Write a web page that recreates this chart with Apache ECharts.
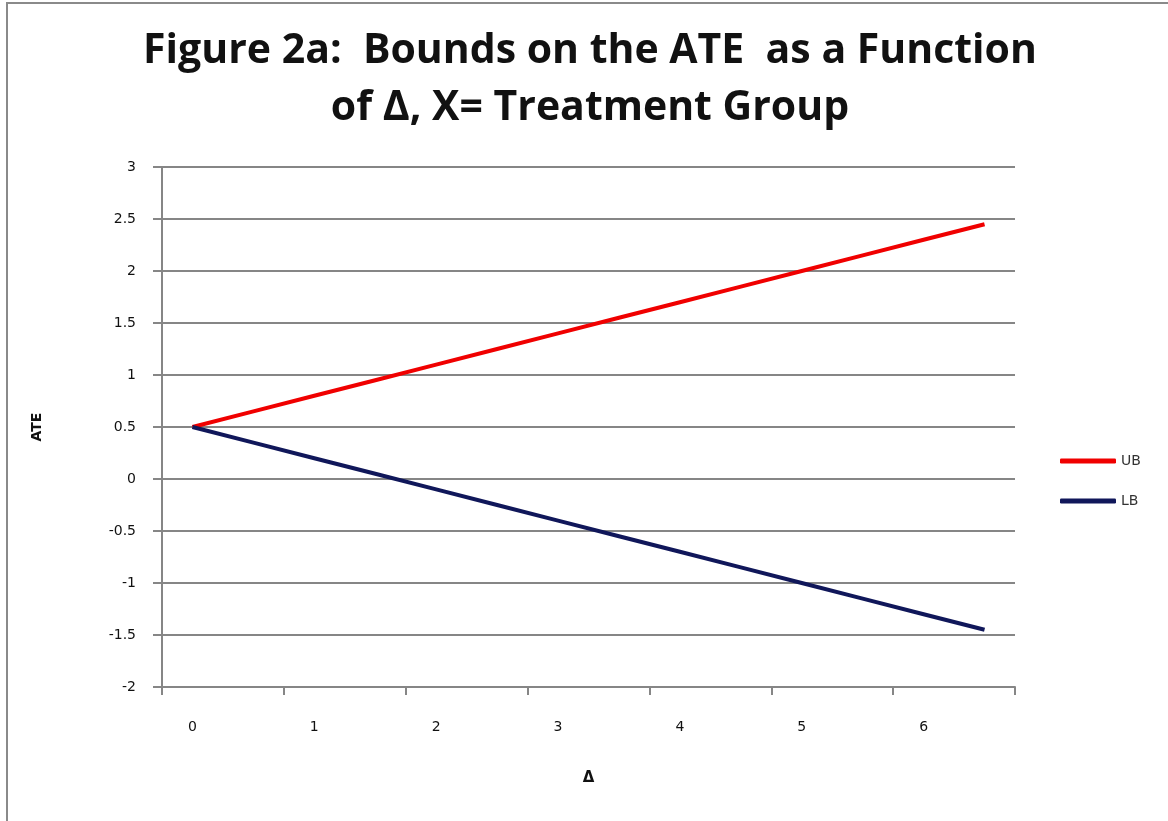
<!DOCTYPE html>
<html>
<head>
<meta charset="utf-8">
<script src="https://cdn.jsdelivr.net/npm/echarts@6/dist/echarts.min.js"></script>
<style>
  html, body { margin: 0; padding: 0; background: #fff; }
  #chart { width: 1168px; height: 821px; }
</style>
</head>
<body>
<div id="chart"></div>
<script>
// delta values (category axis, every other one labelled)
var deltas = [0, 0.5, 1, 1.5, 2, 2.5, 3, 3.5, 4, 4.5, 5, 5.5, 6, 6.5];
// upper bound on the ATE
var ubValues = [0.5, 0.65, 0.8, 0.95, 1.1, 1.25, 1.4, 1.55, 1.7, 1.85, 2.0, 2.15, 2.3, 2.45];
// lower bound on the ATE
var lbValues = [0.5, 0.35, 0.2, 0.05, -0.1, -0.25, -0.4, -0.55, -0.7, -0.85, -1.0, -1.15, -1.3, -1.45];
var seriesNames = ['UB', 'LB'];

var myChart = echarts.init(document.getElementById('chart'));

myChart.setOption({
    backgroundColor: '#fff',
    title: {
        text: 'Figure 2a:  Bounds on the ATE  as a Function\nof \u0394, X= Treatment Group',
        left: 585,
        textAlign: 'center',
        top: 18,
        textStyle: {
            fontFamily: 'Open Sans',
            fontWeight: 'bold',
            fontSize: 41,
            lineHeight: 57,
            color: '#111'
        }
    },
    graphic: [{
        type: 'rect',
        shape: { x: 7, y: 3, width: 1200, height: 900 },
        style: { fill: 'none', stroke: '#8a8a8a', lineWidth: 2 },
        silent: true
    }],
    legend: {
        orient: 'vertical',
        left: 1055,
        top: 449,
        itemWidth: 56,
        itemHeight: 5,
        itemGap: 26,
        icon: 'roundRect',
        data: seriesNames,
        textStyle: { fontFamily: 'DejaVu Sans', fontSize: 14, color: '#333' }
    },
    grid: {
        left: 162,
        right: 153,
        top: 167,
        bottom: 134
    },
    xAxis: {
        type: 'category',
        data: deltas,
        boundaryGap: true,
        name: '\u0394',
        nameLocation: 'middle',
        nameGap: 84,
        nameTextStyle: { fontFamily: 'DejaVu Sans', fontWeight: 'bold', fontSize: 15, color: '#111' },
        axisLine: { onZero: false, lineStyle: { color: '#868686', width: 2 } },
        axisTick: { show: true, interval: 1, length: 8, lineStyle: { color: '#868686', width: 2 } },
        axisLabel: {
            interval: 1,
            margin: 33,
            fontFamily: 'DejaVu Sans',
            fontSize: 14,
            color: '#111'
        },
        splitLine: { show: false }
    },
    yAxis: {
        type: 'value',
        min: -2,
        max: 3,
        interval: 0.5,
        name: 'ATE',
        nameLocation: 'middle',
        nameGap: 118,
        nameTextStyle: { fontFamily: 'DejaVu Sans', fontWeight: 'bold', fontSize: 14, color: '#111' },
        axisLine: { show: true, lineStyle: { color: '#868686', width: 2 } },
        axisTick: { show: true, length: 9, lineStyle: { color: '#868686', width: 2 } },
        axisLabel: {
            margin: 26,
            fontFamily: 'DejaVu Sans',
            fontSize: 14,
            color: '#111'
        },
        splitLine: { lineStyle: { color: '#868686', width: 2 } }
    },
    series: [{
        name: seriesNames[0],
        type: 'line',
        data: ubValues,
        symbol: 'none',
        lineStyle: { color: '#f00000', width: 4 },
        itemStyle: { color: '#f00000' }
    }, {
        name: seriesNames[1],
        type: 'line',
        data: lbValues,
        symbol: 'none',
        lineStyle: { color: '#10175a', width: 4 },
        itemStyle: { color: '#10175a' }
    }]
});
</script>
</body>
</html>
